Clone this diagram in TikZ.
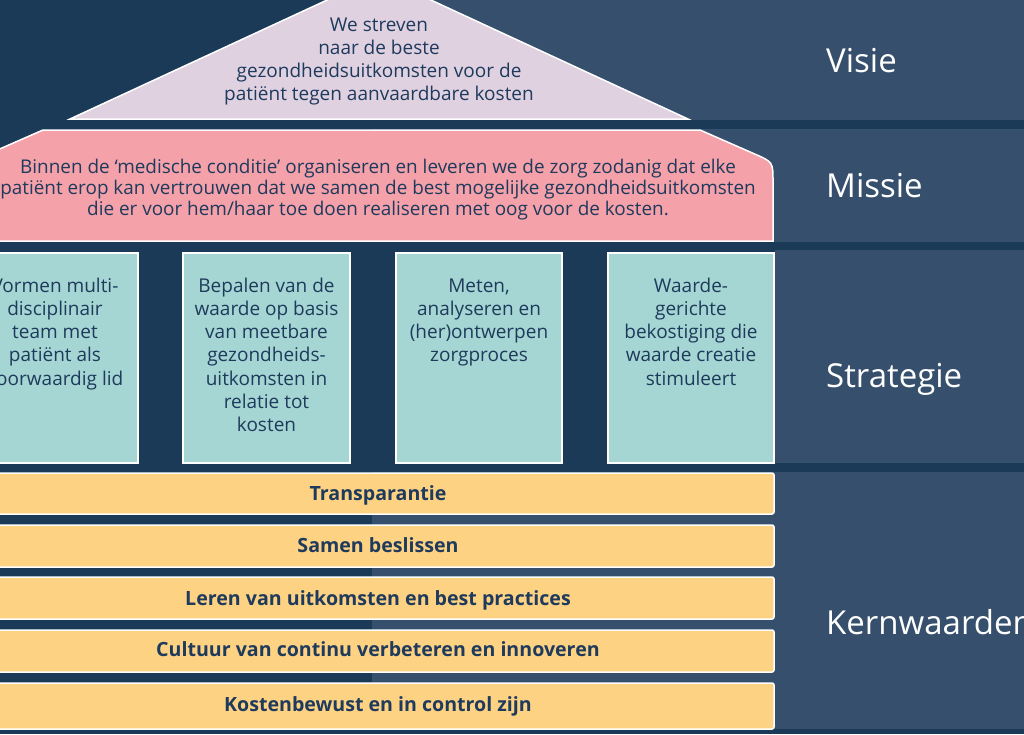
\documentclass[tikz,border=0pt]{standalone}
\usepackage{fontspec}
\setmainfont{Open Sans}
\definecolor{navy}{HTML}{1A3A57}
\definecolor{band}{HTML}{354F6C}
\definecolor{lilac}{HTML}{E0D1E1}
\definecolor{rose}{HTML}{F5A1AA}
\definecolor{teal}{HTML}{A6D6D3}
\definecolor{gold}{HTML}{FED283}
\definecolor{ink}{HTML}{1E3A5C}
\tikzset{
  roofst/.style={fill=lilac, draw=white, line width=1.5},
  missiest/.style={fill=rose, draw=white, line width=1.5},
  tealbox/.style={fill=teal, draw=white, line width=1.5},
  barbox/.style={fill=gold, draw=white, line width=1.5, rounded corners=2},
  % anchor=base of a multi-line node is the baseline of its LAST line
  bodytext/.style={font=\fontsize{19}{23.3}\selectfont, text=ink, align=center, inner sep=0, anchor=base},
  rooftext/.style={font=\fontsize{19}{22.7}\selectfont, text=ink, align=center, inner sep=0, anchor=base},
  missietext/.style={font=\fontsize{18.9}{21}\selectfont, text=ink, align=center, inner sep=0, anchor=base},
  bartext/.style={font=\bfseries\fontsize{19.6}{22}\selectfont, text=ink, inner sep=0, anchor=base},
  rowlabel/.style={font=\fontsize{33}{40}\selectfont, text=white, inner sep=0, anchor=base west},
}
\begin{document}
\begin{tikzpicture}[x=1pt,y=-1pt]
\useasboundingbox (0,0) rectangle (1024,734);
\clip (0,0) rectangle (1024,734);
% background
\fill[navy] (0,0) rectangle (1024,734);
\fill[band] (372,0) rectangle (1024,120);
\fill[band] (372,129) rectangle (1024,242);
\fill[band] (775,250) rectangle (1024,463);
\fill[band] (372,472) rectangle (1024,729);
% roof (Visie)
\draw[roofst] (70,119) -- (379,-24) -- (688,119) -- cycle;
\node[rooftext] (visietxt) at (379,100) {We streven\\naar de beste\\gezondheidsuitkomsten voor de\\patiënt tegen aanvaardbare kosten};
% Missie body
\draw[missiest] (-30,241) -- (-30,162) -- (43,130) -- (700,130) -- (754.7,154) .. controls (773,162) .. (773,182) -- (773,241) -- cycle;
\node[missietext] (missietxt) at (378,215) {Binnen de ‘medische conditie’ organiseren en leveren we de zorg zodanig dat elke\\patiënt erop kan vertrouwen dat we samen de best mogelijke gezondheidsuitkomsten\\die er voor hem/haar toe doen realiseren met oog voor de kosten.};
% Strategie pillars
\draw[tealbox] (-28,253) rectangle (138,463);
\draw[tealbox] (183,253) rectangle (350,463);
\draw[tealbox] (396,253) rectangle (562,463);
\draw[tealbox] (608,253) rectangle (774,463);
\node[bodytext] (s1) at (55,385.2) {Vormen multi-\\disciplinair\\team met\\patiënt als\\voorwaardig lid};
\node[bodytext] (s2) at (266.5,431.8) {Bepalen van de\\waarde op basis\\van meetbare\\gezondheids-\\uitkomsten in\\relatie tot\\kosten};
\node[bodytext] (s3) at (479,361.9) {Meten,\\analyseren en\\(her)ontwerpen\\zorgproces};
\node[bodytext] (s4) at (691,385.2) {Waarde-\\gerichte\\bekostiging die\\waarde creatie\\stimuleert};
% Kernwaarden bars
\draw[barbox] (-18,473) rectangle (774,514);
\draw[barbox] (-18,525) rectangle (774,567);
\draw[barbox] (-18,577) rectangle (774,619);
\draw[barbox] (-18,630) rectangle (774,672);
\draw[barbox] (-18,683) rectangle (774,729);
\node[bartext] (k1) at (378,500) {Transparantie};
\node[bartext] (k2) at (378,552.5) {Samen beslissen};
\node[bartext] (k3) at (378,605.5) {Leren van uitkomsten en best practices};
\node[bartext] (k4) at (378,656.5) {Cultuur van continu verbeteren en innoveren};
\node[bartext] (k5) at (378,711.5) {Kostenbewust en in control zijn};
% row labels
\node[rowlabel] (lv) at (826,72) {Visie};
\node[rowlabel] (lm) at (826,197) {Missie};
\node[rowlabel] (ls) at (826,387) {Strategie};
\node[rowlabel] (lk) at (826,634) {Kernwaarden};
\end{tikzpicture}
\end{document}
